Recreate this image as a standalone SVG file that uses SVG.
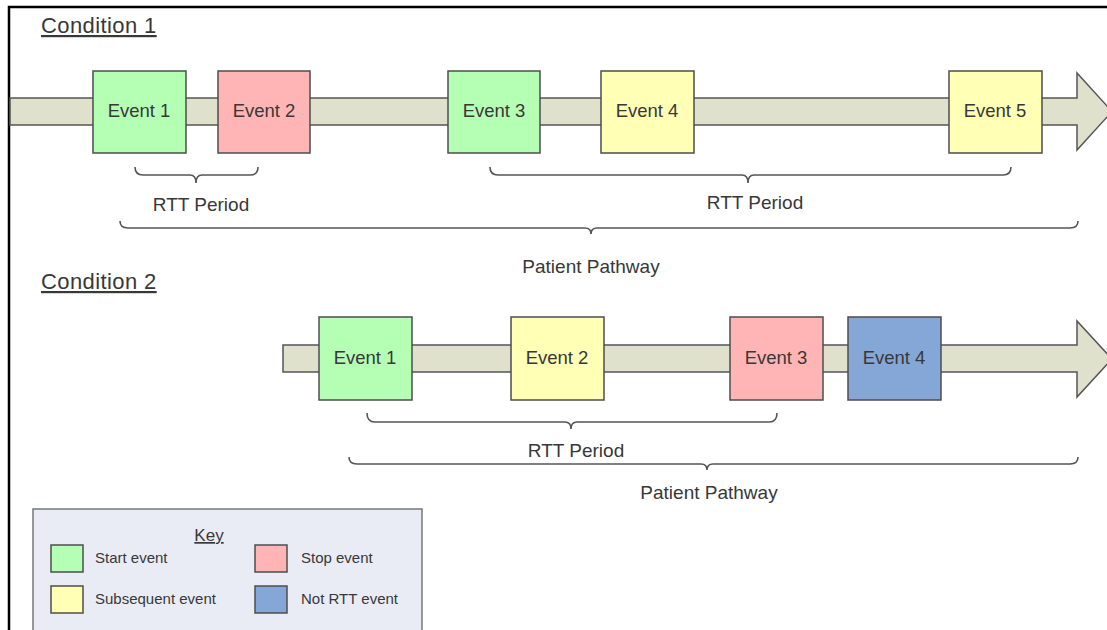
<svg xmlns="http://www.w3.org/2000/svg" width="1107" height="630" viewBox="0 0 1107 630">
<style>
text{font-family:"Liberation Sans",Arial,sans-serif;fill:#383838}
.ev{font-size:18.5px;text-anchor:middle}
.lbl{font-size:19px;text-anchor:middle}
.cond{font-size:22px;letter-spacing:0.4px;text-decoration:underline}
.key{font-size:15px}
.box{stroke:#4d4d4d;stroke-width:1.5}
.start{fill:#b5ffb5}
.stop{fill:#ffb5b5}
.sub{fill:#ffffb5}
.not{fill:#84a7d8}
.bar{fill:#dfe1cd;stroke:#555;stroke-width:1.5}
.brace{fill:none;stroke:#555;stroke-width:1.6}
</style>
<rect width="1107" height="630" fill="#fff"/>
<path d="M9,630 L9,7 L1107,7" fill="none" stroke="#000" stroke-width="2.5"/>

<text class="cond" x="41" y="33">Condition 1</text>
<text class="cond" x="41" y="289">Condition 2</text>

<g id="timelines">
<path class="bar" d="M10,98 L1077,98 L1077,73 L1112,111.5 L1077,150 L1077,125 L10,125 Z"/>
<path class="bar" d="M283,345 L1077,345 L1077,321 L1112,359 L1077,397 L1077,372 L283,372 Z"/>
</g>

<g id="c1e1"><rect class="box start" x="93" y="71" width="93" height="82"/><text class="ev" x="139" y="117">Event 1</text></g>
<g id="c1e2"><rect class="box stop" x="218" y="71" width="92" height="82"/><text class="ev" x="264" y="117">Event 2</text></g>
<g id="c1e3"><rect class="box start" x="448" y="71" width="92" height="82"/><text class="ev" x="494" y="117">Event 3</text></g>
<g id="c1e4"><rect class="box sub" x="601" y="71" width="93" height="82"/><text class="ev" x="647" y="117">Event 4</text></g>
<g id="c1e5"><rect class="box sub" x="949" y="71" width="93" height="82"/><text class="ev" x="995" y="117">Event 5</text></g>

<g id="c2e1"><rect class="box start" x="319" y="317" width="93" height="83"/><text class="ev" x="365" y="364">Event 1</text></g>
<g id="c2e2"><rect class="box sub" x="511" y="317" width="93" height="83"/><text class="ev" x="557" y="364">Event 2</text></g>
<g id="c2e3"><rect class="box stop" x="730" y="317" width="93" height="83"/><text class="ev" x="776" y="364">Event 3</text></g>
<g id="c2e4"><rect class="box not" x="848" y="317" width="93" height="83"/><text class="ev" x="894" y="364">Event 4</text></g>

<g id="braces">
<path class="brace" d="M135,167 Q135,175 143,175 L190,175 Q196,175 196,183 Q196,175 202,175 L250,175 Q258,175 258,167"/>
<path class="brace" d="M490,167 Q490,175 498,175 L742,175 Q748,175 748,183 Q748,175 754,175 L1003,175 Q1011,175 1011,167"/>
<path class="brace" d="M120,221 Q120,228 128,228 L585,228 Q591,228 591,234 Q591,228 597,228 L1070,228 Q1078,228 1078,221"/>
<path class="brace" d="M367,413 Q367,422 375,422 L565,422 Q571,422 571,429 Q571,422 577,422 L769,422 Q777,422 777,413"/>
<path class="brace" d="M349,457 Q349,464 357,464 L701,464 Q707,464 707,470 Q707,464 713,464 L1070,464 Q1078,464 1078,457"/>
</g>

<g id="labels">
<text class="lbl" x="201" y="211">RTT Period</text>
<text class="lbl" x="755" y="209">RTT Period</text>
<text class="lbl" x="591" y="273">Patient Pathway</text>
<text class="lbl" x="576" y="457">RTT Period</text>
<text class="lbl" x="709" y="499">Patient Pathway</text>
</g>

<g id="key">
<rect x="33" y="509" width="389" height="130" fill="#e9ecf5" stroke="#777" stroke-width="1.5"/>
<text x="209" y="541" font-size="17" text-anchor="middle" text-decoration="underline">Key</text>
<rect class="box start" x="51" y="545" width="32" height="27"/>
<text class="key" x="95" y="563">Start event</text>
<rect class="box stop" x="255" y="545" width="32" height="27"/>
<text class="key" x="301" y="563">Stop event</text>
<rect class="box sub" x="51" y="586" width="32" height="27"/>
<text class="key" x="95" y="604">Subsequent event</text>
<rect class="box not" x="255" y="586" width="32" height="27"/>
<text class="key" x="301" y="604">Not RTT event</text>
</g>
</svg>
